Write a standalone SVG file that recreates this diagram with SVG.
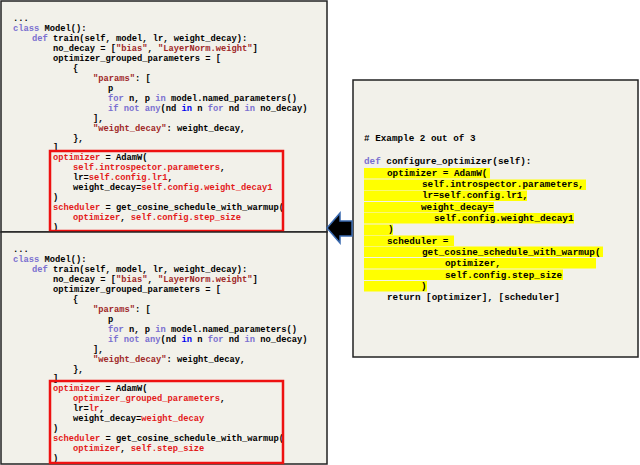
<svg xmlns="http://www.w3.org/2000/svg" width="640" height="465" viewBox="0 0 640 465">
<style>
text{font-family:"Liberation Mono","Courier New",monospace;font-weight:bold;white-space:pre}
.l{font-size:8.75px}
.r{font-size:9.3px}
.k{fill:#7a70d0}
.b{fill:#0000ee}
.s{fill:#a02828}
.e{fill:#e31a1a}
.hl{fill:#ffff00}
.panel{fill:#f2f1ea;stroke:#222;stroke-width:1.5}
.rb{fill:none;stroke:#ee1111;stroke-width:2.5}
</style>
<g id="top-panel">
<rect class="panel" x="1" y="1" width="326" height="231"/>
<text class="l" xml:space="preserve">
<tspan x="13" y="21">...</tspan>
<tspan x="13" y="31"><tspan class="k">class</tspan> Model():</tspan>
<tspan x="32" y="41"><tspan class="k">def</tspan> train(self, model, lr, weight_decay):</tspan>
<tspan x="53" y="51">no_decay = [<tspan class="s">"bias"</tspan>, <tspan class="s">"LayerNorm.weight"</tspan>]</tspan>
<tspan x="53" y="61">optimizer_grouped_parameters = [</tspan>
<tspan x="73" y="71">{</tspan>
<tspan x="93" y="81"><tspan class="s">"params"</tspan>: [</tspan>
<tspan x="108" y="91">p</tspan>
<tspan x="108" y="101"><tspan class="k">for</tspan> n, p <tspan class="k">in</tspan> model.named_parameters()</tspan>
<tspan x="108" y="111"><tspan class="k">if not any</tspan>(nd <tspan class="b">in</tspan> n <tspan class="k">for</tspan> nd <tspan class="k">in</tspan> no_decay)</tspan>
<tspan x="93" y="121">],</tspan>
<tspan x="93" y="131"><tspan class="s">"weight_decay"</tspan>: weight_decay,</tspan>
<tspan x="73" y="141">},</tspan>
<tspan x="53" y="150">]</tspan>
<tspan x="53" y="160"><tspan class="e">optimizer</tspan> = AdamW(</tspan>
<tspan x="73" y="170" class="e">self.introspector.parameters<tspan fill="#000">,</tspan></tspan>
<tspan x="73" y="180">lr=<tspan class="e">self.config.lr1</tspan>,</tspan>
<tspan x="73" y="190">weight_decay=<tspan class="e">self.config.weight_decay1</tspan></tspan>
<tspan x="53" y="200">)</tspan>
<tspan x="53" y="210"><tspan class="e">scheduler</tspan> = get_cosine_schedule_with_warmup(</tspan>
<tspan x="73" y="220"><tspan class="e">optimizer</tspan>, <tspan class="e">self.config.step_size</tspan></tspan>
<tspan x="53" y="230">)</tspan>
</text>
<rect class="rb" x="50" y="151" width="233" height="80"/>
</g>
<g id="bottom-panel">
<rect class="panel" x="1" y="232" width="326" height="232"/>
<text class="l" xml:space="preserve">
<tspan x="13" y="252">...</tspan>
<tspan x="13" y="262"><tspan class="k">class</tspan> Model():</tspan>
<tspan x="32" y="272"><tspan class="k">def</tspan> train(self, model, lr, weight_decay):</tspan>
<tspan x="53" y="282">no_decay = [<tspan class="s">"bias"</tspan>, <tspan class="s">"LayerNorm.weight"</tspan>]</tspan>
<tspan x="53" y="292">optimizer_grouped_parameters = [</tspan>
<tspan x="73" y="302">{</tspan>
<tspan x="93" y="312"><tspan class="s">"params"</tspan>: [</tspan>
<tspan x="108" y="322">p</tspan>
<tspan x="108" y="332"><tspan class="k">for</tspan> n, p <tspan class="k">in</tspan> model.named_parameters()</tspan>
<tspan x="108" y="342"><tspan class="k">if not any</tspan>(nd <tspan class="b">in</tspan> n <tspan class="k">for</tspan> nd <tspan class="k">in</tspan> no_decay)</tspan>
<tspan x="93" y="352">],</tspan>
<tspan x="93" y="362"><tspan class="s">"weight_decay"</tspan>: weight_decay,</tspan>
<tspan x="73" y="372">},</tspan>
<tspan x="53" y="381">]</tspan>
<tspan x="53" y="391"><tspan class="e">optimizer</tspan> = AdamW(</tspan>
<tspan x="73" y="401" class="e">optimizer_grouped_parameters<tspan fill="#000">,</tspan></tspan>
<tspan x="73" y="411">lr=<tspan class="e">lr</tspan>,</tspan>
<tspan x="73" y="421">weight_decay=<tspan class="e">weight_decay</tspan></tspan>
<tspan x="53" y="431">)</tspan>
<tspan x="53" y="441"><tspan class="e">scheduler</tspan> = get_cosine_schedule_with_warmup(</tspan>
<tspan x="73" y="451"><tspan class="e">optimizer</tspan>, <tspan class="e">self.step_size</tspan></tspan>
<tspan x="53" y="461">)</tspan>
</text>
<rect class="rb" x="50" y="381" width="233" height="82"/>
</g>
<g id="right-panel">
<rect class="panel" x="353" y="80" width="285" height="277"/>
<g>
<rect class="hl" x="364" y="168" width="126" height="10.5"/>
<rect class="hl" x="364" y="179.5" width="222" height="10.5"/>
<rect class="hl" x="364" y="190.5" width="163" height="10.5"/>
<rect class="hl" x="364" y="202" width="130" height="10.5"/>
<rect class="hl" x="364" y="213" width="210" height="10.5"/>
<rect class="hl" x="364" y="224.5" width="29" height="10.5"/>
<rect class="hl" x="364" y="235.5" width="90" height="10.5"/>
<rect class="hl" x="364" y="246.5" width="239" height="10.5"/>
<rect class="hl" x="364" y="258" width="232" height="10.5"/>
<rect class="hl" x="364" y="269.5" width="199" height="10.5"/>
<rect class="hl" x="364" y="281" width="63" height="10.5"/>
</g>
<text class="r" xml:space="preserve">
<tspan x="364" y="141"># Example 2 out of 3</tspan>
<tspan x="364" y="164"><tspan class="k">def</tspan> configure_optimizer(self):</tspan>
<tspan x="387" y="176">optimizer = AdamW(</tspan>
<tspan x="422" y="187">self.introspector.parameters,</tspan>
<tspan x="422" y="198">lr=self.config.lr1,</tspan>
<tspan x="421" y="210">weight_decay=</tspan>
<tspan x="434" y="221">self.config.weight_decay1</tspan>
<tspan x="388" y="232">)</tspan>
<tspan x="387" y="244">scheduler =</tspan>
<tspan x="422" y="255">get_cosine_schedule_with_warmup(</tspan>
<tspan x="445" y="266">optimizer,</tspan>
<tspan x="445" y="278">self.config.step_size</tspan>
<tspan x="421" y="289">)</tspan>
<tspan x="387" y="300">return [optimizer], [scheduler]</tspan>
</text>
</g>
<g id="connectors">
<path d="M352,221 L340,221 L340,213 L327,228 L340,243 L340,236 L352,236 Z" fill="#000" stroke="#3a6ab0" stroke-width="1.5" stroke-linejoin="miter"/>
</g>
</svg>
